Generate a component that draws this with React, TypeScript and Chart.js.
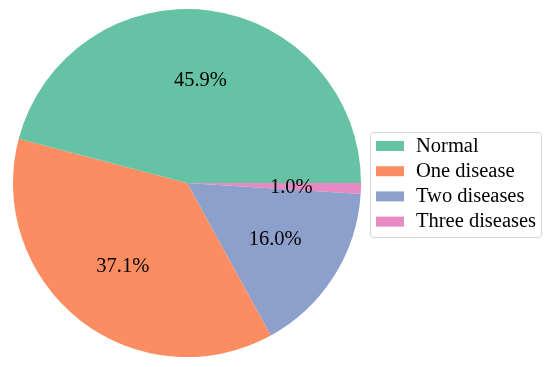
import React, { useEffect, useRef } from "react";
import { Chart, registerables } from "chart.js";

Chart.register(...registerables);

const categories = ["Normal", "One disease", "Two diseases", "Three diseases"];
const percentages = [45.9, 37.1, 16.0, 1.0];
const colors = ["#66c2a5", "#fc8d62", "#8da0cb", "#e78ac3"];

const FONT = '"Liberation Serif", "Times New Roman", serif';
const FONT_SIZE = 20.5;

const pctLabelPlugin = {
  id: "pctLabels",
  afterDatasetsDraw(chart: any) {
    const ctx = chart.ctx;
    const meta = chart.getDatasetMeta(0);
    const ds = chart.data.datasets[0];
    ctx.save();
    ctx.font = `${FONT_SIZE}px ${FONT}`;
    ctx.fillStyle = "#000";
    ctx.textAlign = "center";
    ctx.textBaseline = "middle";
    meta.data.forEach((arc: any, i: number) => {
      const { x, y, startAngle, endAngle, outerRadius } = arc.getProps(
        ["x", "y", "startAngle", "endAngle", "outerRadius"],
        true
      );
      const mid = (startAngle + endAngle) / 2;
      const r = outerRadius * 0.6;
      ctx.fillText(`${Number(ds.data[i]).toFixed(1)}%`, x + Math.cos(mid) * r, y + Math.sin(mid) * r + 1);
    });
    ctx.restore();
  },
};

const legendPlugin = {
  id: "customLegend",
  afterDraw(chart: any) {
    const ctx = chart.ctx;
    const x0 = 370;
    const y0 = 132;
    const w = 171;
    const h = 105;
    ctx.save();
    ctx.fillStyle = "rgba(255,255,255,0.8)";
    ctx.strokeStyle = "#d6d6d6";
    ctx.lineWidth = 1;
    ctx.beginPath();
    (ctx as any).roundRect(x0 + 0.5, y0 + 0.5, w, h, 3);
    ctx.fill();
    ctx.stroke();
    ctx.font = `${FONT_SIZE}px ${FONT}`;
    ctx.textBaseline = "middle";
    ctx.textAlign = "left";
    categories.forEach((c, i) => {
      const cy = y0 + 14 + i * 25.2;
      ctx.fillStyle = colors[i];
      ctx.fillRect(x0 + 6, cy - 5, 28, 10);
      ctx.fillStyle = "#000";
      ctx.fillText(c, x0 + 46, cy + 0.5);
    });
    ctx.restore();
  },
};

export default function App() {
  const ref = useRef<HTMLCanvasElement | null>(null);
  useEffect(() => {
    document.body.style.margin = "0";
    const canvas = ref.current!;
    const labels = [...categories].reverse();
    const data = [...percentages].reverse();
    const bg = [...colors].reverse();
    const chart = new Chart(canvas, {
      type: "pie",
      data: {
        labels,
        datasets: [{ data, backgroundColor: bg, borderWidth: 0 }],
      },
      options: {
        responsive: false,
        animation: false,
        rotation: 90,
        layout: { padding: { left: 12, right: 188, top: 9, bottom: 10 } },
        plugins: { legend: { display: false }, tooltip: { enabled: false } },
      },
      plugins: [pctLabelPlugin, legendPlugin],
    });
    return () => chart.destroy();
  }, []);
  return <canvas ref={ref} width={550} height={367} style={{ display: "block" }} />;
}
